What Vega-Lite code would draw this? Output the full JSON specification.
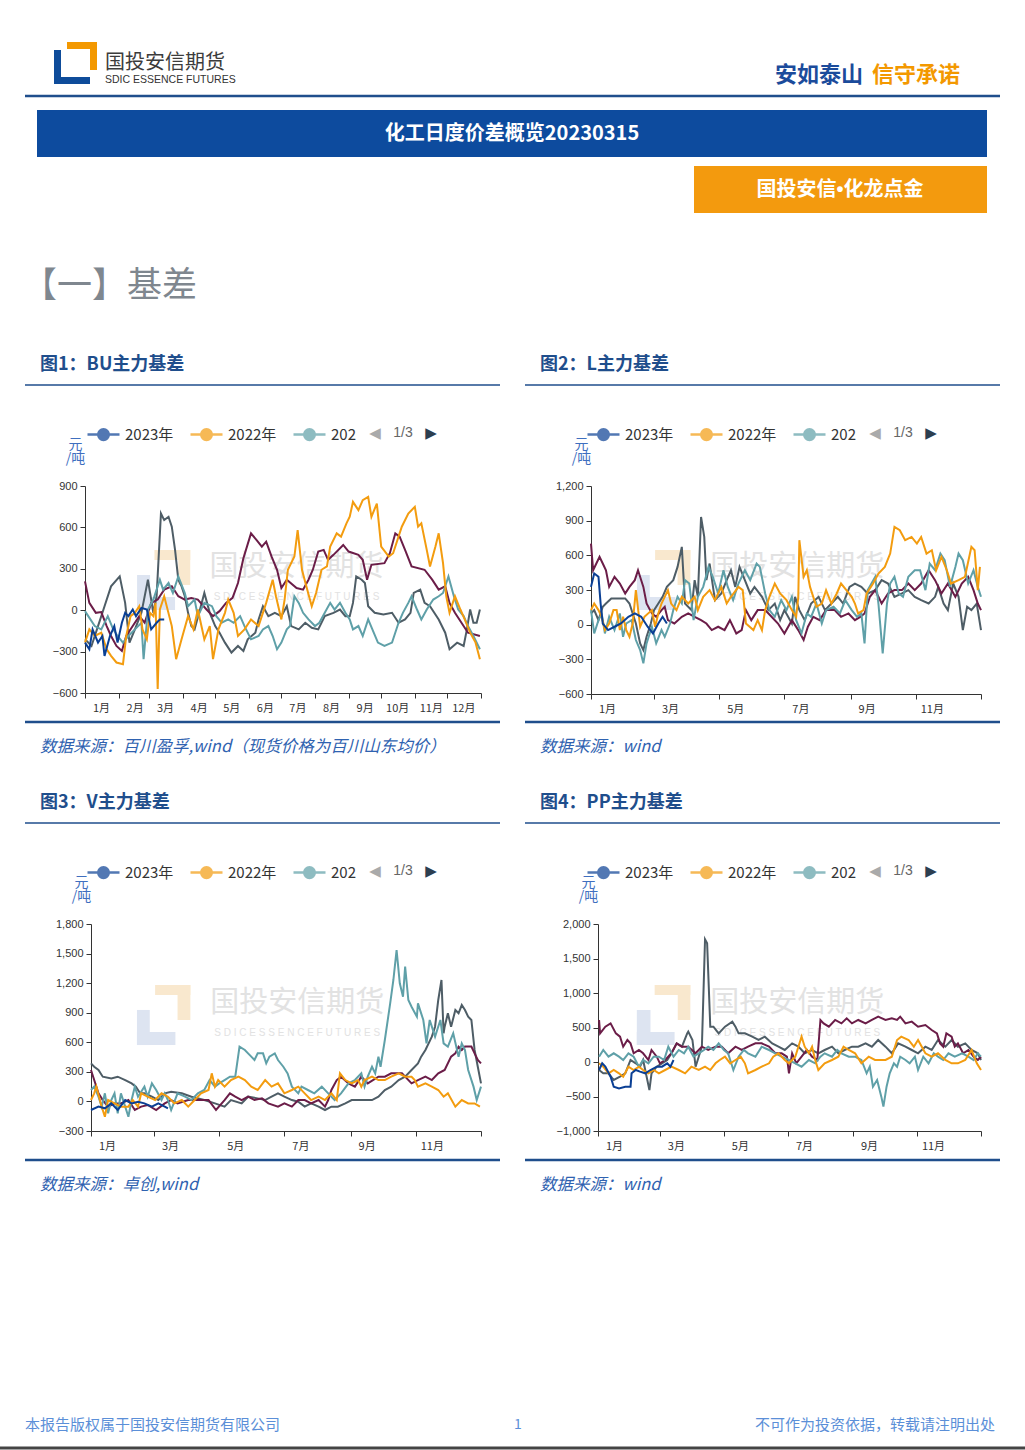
{
"$schema":"https://vega.github.io/schema/vega-lite/v6.json",
"width":1025,"height":1450,"padding":0,"autosize":{"type":"none"},"background":"white",
"data":{"values":[{}]},
"datasets":{
"bu":[
{"y":2019,"x":1,"v":-211},{"y":2019,"x":7,"v":-259},{"y":2019,"x":13,"v":-115},{"y":2019,"x":19,"v":29},{"y":2019,"x":25,"v":173},{"y":2019,"x":33,"v":245},{"y":2019,"x":38,"v":53},{"y":2019,"x":42,"v":-235},{"y":2019,"x":47,"v":-139},{"y":2019,"x":53,"v":-19},{"y":2019,"x":59,"v":221},{"y":2019,"x":64,"v":-19},{"y":2019,"x":67,"v":101},{"y":2019,"x":71,"v":701},{"y":2019,"x":74,"v":653},{"y":2019,"x":78,"v":677},{"y":2019,"x":81,"v":605},{"y":2019,"x":84,"v":437},{"y":2019,"x":87,"v":221},{"y":2019,"x":90,"v":173},{"y":2019,"x":93,"v":101},{"y":2019,"x":96,"v":-19},{"y":2019,"x":99,"v":-115},{"y":2019,"x":102,"v":-139},{"y":2019,"x":107,"v":5},{"y":2019,"x":111,"v":125},{"y":2019,"x":116,"v":-19},{"y":2019,"x":121,"v":-115},{"y":2019,"x":125,"v":-163},{"y":2019,"x":130,"v":-235},{"y":2019,"x":136,"v":-307},{"y":2019,"x":142,"v":-259},{"y":2019,"x":147,"v":-295},{"y":2019,"x":151,"v":-211},{"y":2019,"x":158,"v":-163},{"y":2019,"x":161,"v":-67},{"y":2019,"x":165,"v":29},{"y":2019,"x":170,"v":-43},{"y":2019,"x":176,"v":-19},{"y":2019,"x":182,"v":-43},{"y":2019,"x":187,"v":29},{"y":2019,"x":191,"v":-115},{"y":2019,"x":198,"v":-139},{"y":2019,"x":204,"v":-91},{"y":2019,"x":210,"v":-127},{"y":2019,"x":216,"v":-139},{"y":2019,"x":222,"v":-43},{"y":2019,"x":230,"v":-19},{"y":2019,"x":236,"v":5},{"y":2019,"x":241,"v":-43},{"y":2019,"x":245,"v":-43},{"y":2019,"x":248,"v":53},{"y":2019,"x":251,"v":245},{"y":2019,"x":256,"v":221},{"y":2019,"x":259,"v":197},{"y":2019,"x":262,"v":29},{"y":2019,"x":268,"v":-19},{"y":2019,"x":276,"v":-31},{"y":2019,"x":284,"v":-19},{"y":2019,"x":290,"v":-91},{"y":2019,"x":296,"v":-67},{"y":2019,"x":301,"v":-19},{"y":2019,"x":304,"v":125},{"y":2019,"x":310,"v":149},{"y":2019,"x":314,"v":53},{"y":2019,"x":319,"v":29},{"y":2019,"x":327,"v":-67},{"y":2019,"x":333,"v":-163},{"y":2019,"x":337,"v":-283},{"y":2019,"x":344,"v":-235},{"y":2019,"x":350,"v":-259},{"y":2019,"x":353,"v":-139},{"y":2019,"x":356,"v":5},{"y":2019,"x":359,"v":-91},{"y":2019,"x":362,"v":-91},{"y":2019,"x":365,"v":5},
{"y":2020,"x":1,"v":209},{"y":2020,"x":5,"v":53},{"y":2020,"x":11,"v":-19},{"y":2020,"x":16,"v":-14},{"y":2020,"x":21,"v":-115},{"y":2020,"x":25,"v":-187},{"y":2020,"x":30,"v":-259},{"y":2020,"x":35,"v":-295},{"y":2020,"x":39,"v":-187},{"y":2020,"x":45,"v":-115},{"y":2020,"x":51,"v":-43},{"y":2020,"x":56,"v":-91},{"y":2020,"x":62,"v":53},{"y":2020,"x":68,"v":77},{"y":2020,"x":74,"v":149},{"y":2020,"x":81,"v":173},{"y":2020,"x":87,"v":101},{"y":2020,"x":93,"v":77},{"y":2020,"x":99,"v":89},{"y":2020,"x":105,"v":77},{"y":2020,"x":113,"v":5},{"y":2020,"x":119,"v":-43},{"y":2020,"x":125,"v":-7},{"y":2020,"x":131,"v":53},{"y":2020,"x":137,"v":89},{"y":2020,"x":142,"v":197},{"y":2020,"x":147,"v":377},{"y":2020,"x":154,"v":557},{"y":2020,"x":159,"v":509},{"y":2020,"x":164,"v":461},{"y":2020,"x":168,"v":497},{"y":2020,"x":173,"v":389},{"y":2020,"x":178,"v":293},{"y":2020,"x":182,"v":161},{"y":2020,"x":187,"v":221},{"y":2020,"x":196,"v":161},{"y":2020,"x":202,"v":149},{"y":2020,"x":207,"v":221},{"y":2020,"x":211,"v":293},{"y":2020,"x":216,"v":425},{"y":2020,"x":221,"v":437},{"y":2020,"x":225,"v":365},{"y":2020,"x":230,"v":401},{"y":2020,"x":239,"v":473},{"y":2020,"x":244,"v":425},{"y":2020,"x":253,"v":401},{"y":2020,"x":257,"v":365},{"y":2020,"x":261,"v":221},{"y":2020,"x":265,"v":329},{"y":2020,"x":277,"v":341},{"y":2020,"x":282,"v":413},{"y":2020,"x":287,"v":557},{"y":2020,"x":291,"v":533},{"y":2020,"x":296,"v":437},{"y":2020,"x":302,"v":317},{"y":2020,"x":314,"v":293},{"y":2020,"x":321,"v":221},{"y":2020,"x":327,"v":149},{"y":2020,"x":333,"v":173},{"y":2020,"x":337,"v":53},{"y":2020,"x":342,"v":-19},{"y":2020,"x":348,"v":-91},{"y":2020,"x":354,"v":-163},{"y":2020,"x":365,"v":-187},
{"y":2021,"x":1,"v":-7},{"y":2021,"x":4,"v":-43},{"y":2021,"x":10,"v":-115},{"y":2021,"x":16,"v":-139},{"y":2021,"x":22,"v":-43},{"y":2021,"x":27,"v":-139},{"y":2021,"x":31,"v":-187},{"y":2021,"x":36,"v":-235},{"y":2021,"x":41,"v":-187},{"y":2021,"x":47,"v":-139},{"y":2021,"x":53,"v":-91},{"y":2021,"x":55,"v":-355},{"y":2021,"x":59,"v":5},{"y":2021,"x":64,"v":77},{"y":2021,"x":70,"v":221},{"y":2021,"x":73,"v":149},{"y":2021,"x":78,"v":197},{"y":2021,"x":82,"v":125},{"y":2021,"x":87,"v":245},{"y":2021,"x":93,"v":125},{"y":2021,"x":96,"v":29},{"y":2021,"x":102,"v":77},{"y":2021,"x":105,"v":-43},{"y":2021,"x":111,"v":53},{"y":2021,"x":118,"v":29},{"y":2021,"x":122,"v":-43},{"y":2021,"x":127,"v":-91},{"y":2021,"x":133,"v":-67},{"y":2021,"x":138,"v":-91},{"y":2021,"x":144,"v":-43},{"y":2021,"x":148,"v":-115},{"y":2021,"x":154,"v":-211},{"y":2021,"x":161,"v":-187},{"y":2021,"x":165,"v":-139},{"y":2021,"x":170,"v":-115},{"y":2021,"x":174,"v":-187},{"y":2021,"x":178,"v":-283},{"y":2021,"x":182,"v":-235},{"y":2021,"x":187,"v":-139},{"y":2021,"x":190,"v":-115},{"y":2021,"x":194,"v":101},{"y":2021,"x":198,"v":53},{"y":2021,"x":202,"v":-19},{"y":2021,"x":207,"v":-67},{"y":2021,"x":213,"v":-115},{"y":2021,"x":217,"v":-91},{"y":2021,"x":222,"v":-19},{"y":2021,"x":227,"v":53},{"y":2021,"x":231,"v":5},{"y":2021,"x":236,"v":53},{"y":2021,"x":241,"v":-19},{"y":2021,"x":245,"v":-67},{"y":2021,"x":248,"v":-139},{"y":2021,"x":253,"v":-115},{"y":2021,"x":257,"v":-187},{"y":2021,"x":262,"v":-67},{"y":2021,"x":271,"v":-235},{"y":2021,"x":277,"v":-259},{"y":2021,"x":284,"v":-235},{"y":2021,"x":290,"v":-91},{"y":2021,"x":294,"v":-19},{"y":2021,"x":299,"v":53},{"y":2021,"x":302,"v":101},{"y":2021,"x":307,"v":5},{"y":2021,"x":311,"v":-67},{"y":2021,"x":316,"v":5},{"y":2021,"x":322,"v":77},{"y":2021,"x":327,"v":101},{"y":2021,"x":331,"v":125},{"y":2021,"x":336,"v":245},{"y":2021,"x":341,"v":101},{"y":2021,"x":345,"v":5},{"y":2021,"x":350,"v":-43},{"y":2021,"x":354,"v":-115},{"y":2021,"x":359,"v":-187},{"y":2021,"x":365,"v":-283},
{"y":2022,"x":1,"v":-235},{"y":2022,"x":5,"v":-139},{"y":2022,"x":10,"v":-187},{"y":2022,"x":16,"v":-163},{"y":2022,"x":21,"v":-283},{"y":2022,"x":25,"v":-331},{"y":2022,"x":30,"v":-379},{"y":2022,"x":36,"v":-391},{"y":2022,"x":39,"v":-187},{"y":2022,"x":43,"v":-43},{"y":2022,"x":47,"v":-19},{"y":2022,"x":51,"v":29},{"y":2022,"x":54,"v":-139},{"y":2022,"x":58,"v":-211},{"y":2022,"x":61,"v":-19},{"y":2022,"x":64,"v":-43},{"y":2022,"x":66,"v":53},{"y":2022,"x":68,"v":-571},{"y":2022,"x":70,"v":5},{"y":2022,"x":74,"v":101},{"y":2022,"x":81,"v":-115},{"y":2022,"x":85,"v":-355},{"y":2022,"x":90,"v":-211},{"y":2022,"x":96,"v":-43},{"y":2022,"x":101,"v":-139},{"y":2022,"x":105,"v":5},{"y":2022,"x":111,"v":-211},{"y":2022,"x":116,"v":-115},{"y":2022,"x":119,"v":-355},{"y":2022,"x":124,"v":-139},{"y":2022,"x":130,"v":-19},{"y":2022,"x":133,"v":77},{"y":2022,"x":138,"v":-19},{"y":2022,"x":142,"v":-187},{"y":2022,"x":148,"v":-139},{"y":2022,"x":154,"v":-67},{"y":2022,"x":161,"v":-115},{"y":2022,"x":168,"v":53},{"y":2022,"x":174,"v":221},{"y":2022,"x":177,"v":101},{"y":2022,"x":182,"v":-67},{"y":2022,"x":185,"v":77},{"y":2022,"x":188,"v":293},{"y":2022,"x":194,"v":389},{"y":2022,"x":197,"v":581},{"y":2022,"x":201,"v":293},{"y":2022,"x":205,"v":173},{"y":2022,"x":210,"v":29},{"y":2022,"x":214,"v":125},{"y":2022,"x":219,"v":293},{"y":2022,"x":224,"v":317},{"y":2022,"x":227,"v":461},{"y":2022,"x":233,"v":557},{"y":2022,"x":237,"v":533},{"y":2022,"x":242,"v":629},{"y":2022,"x":245,"v":677},{"y":2022,"x":248,"v":785},{"y":2022,"x":253,"v":725},{"y":2022,"x":257,"v":797},{"y":2022,"x":262,"v":821},{"y":2022,"x":265,"v":677},{"y":2022,"x":270,"v":773},{"y":2022,"x":274,"v":461},{"y":2022,"x":281,"v":389},{"y":2022,"x":285,"v":413},{"y":2022,"x":290,"v":533},{"y":2022,"x":293,"v":605},{"y":2022,"x":299,"v":701},{"y":2022,"x":305,"v":749},{"y":2022,"x":308,"v":605},{"y":2022,"x":311,"v":629},{"y":2022,"x":316,"v":437},{"y":2022,"x":319,"v":317},{"y":2022,"x":324,"v":461},{"y":2022,"x":327,"v":557},{"y":2022,"x":331,"v":341},{"y":2022,"x":334,"v":101},{"y":2022,"x":337,"v":-19},{"y":2022,"x":342,"v":101},{"y":2022,"x":347,"v":5},{"y":2022,"x":351,"v":-67},{"y":2022,"x":356,"v":-163},{"y":2022,"x":361,"v":-235},{"y":2022,"x":365,"v":-355},
{"y":2023,"x":1,"v":-235},{"y":2023,"x":5,"v":-283},{"y":2023,"x":8,"v":-139},{"y":2023,"x":13,"v":-235},{"y":2023,"x":17,"v":-187},{"y":2023,"x":19,"v":-331},{"y":2023,"x":24,"v":-187},{"y":2023,"x":28,"v":-115},{"y":2023,"x":31,"v":-235},{"y":2023,"x":35,"v":-91},{"y":2023,"x":38,"v":-19},{"y":2023,"x":41,"v":-43},{"y":2023,"x":45,"v":5},{"y":2023,"x":48,"v":-43},{"y":2023,"x":53,"v":17},{"y":2023,"x":58,"v":5},{"y":2023,"x":62,"v":-139},{"y":2023,"x":67,"v":-91},{"y":2023,"x":70,"v":-67},{"y":2023,"x":74,"v":-67}
],
"l":[
{"y":2019,"x":1,"v":97},{"y":2019,"x":4,"v":126},{"y":2019,"x":8,"v":39},{"y":2019,"x":12,"v":155},{"y":2019,"x":15,"v":183},{"y":2019,"x":20,"v":227},{"y":2019,"x":26,"v":227},{"y":2019,"x":33,"v":227},{"y":2019,"x":37,"v":183},{"y":2019,"x":40,"v":97},{"y":2019,"x":43,"v":10},{"y":2019,"x":47,"v":-162},{"y":2019,"x":50,"v":-220},{"y":2019,"x":53,"v":-105},{"y":2019,"x":57,"v":10},{"y":2019,"x":60,"v":126},{"y":2019,"x":64,"v":183},{"y":2019,"x":68,"v":241},{"y":2019,"x":72,"v":327},{"y":2019,"x":78,"v":385},{"y":2019,"x":82,"v":500},{"y":2019,"x":86,"v":673},{"y":2019,"x":89,"v":183},{"y":2019,"x":95,"v":126},{"y":2019,"x":98,"v":385},{"y":2019,"x":101,"v":241},{"y":2019,"x":104,"v":932},{"y":2019,"x":107,"v":759},{"y":2019,"x":109,"v":385},{"y":2019,"x":112,"v":529},{"y":2019,"x":117,"v":212},{"y":2019,"x":123,"v":270},{"y":2019,"x":128,"v":385},{"y":2019,"x":132,"v":471},{"y":2019,"x":136,"v":327},{"y":2019,"x":140,"v":500},{"y":2019,"x":145,"v":385},{"y":2019,"x":150,"v":270},{"y":2019,"x":154,"v":327},{"y":2019,"x":161,"v":241},{"y":2019,"x":167,"v":126},{"y":2019,"x":173,"v":183},{"y":2019,"x":178,"v":39},{"y":2019,"x":182,"v":126},{"y":2019,"x":189,"v":10},{"y":2019,"x":192,"v":241},{"y":2019,"x":196,"v":126},{"y":2019,"x":201,"v":39},{"y":2019,"x":207,"v":183},{"y":2019,"x":214,"v":241},{"y":2019,"x":220,"v":126},{"y":2019,"x":226,"v":183},{"y":2019,"x":232,"v":241},{"y":2019,"x":237,"v":183},{"y":2019,"x":243,"v":327},{"y":2019,"x":248,"v":356},{"y":2019,"x":254,"v":327},{"y":2019,"x":260,"v":270},{"y":2019,"x":267,"v":299},{"y":2019,"x":273,"v":385},{"y":2019,"x":279,"v":356},{"y":2019,"x":285,"v":241},{"y":2019,"x":292,"v":270},{"y":2019,"x":298,"v":299},{"y":2019,"x":304,"v":241},{"y":2019,"x":310,"v":212},{"y":2019,"x":317,"v":183},{"y":2019,"x":323,"v":241},{"y":2019,"x":326,"v":327},{"y":2019,"x":331,"v":183},{"y":2019,"x":335,"v":126},{"y":2019,"x":340,"v":356},{"y":2019,"x":345,"v":241},{"y":2019,"x":349,"v":-47},{"y":2019,"x":353,"v":155},{"y":2019,"x":357,"v":126},{"y":2019,"x":362,"v":183},{"y":2019,"x":366,"v":-47},
{"y":2020,"x":1,"v":702},{"y":2020,"x":3,"v":471},{"y":2020,"x":6,"v":529},{"y":2020,"x":9,"v":587},{"y":2020,"x":12,"v":529},{"y":2020,"x":15,"v":471},{"y":2020,"x":18,"v":327},{"y":2020,"x":23,"v":414},{"y":2020,"x":28,"v":356},{"y":2020,"x":33,"v":270},{"y":2020,"x":37,"v":327},{"y":2020,"x":42,"v":385},{"y":2020,"x":45,"v":471},{"y":2020,"x":50,"v":327},{"y":2020,"x":53,"v":183},{"y":2020,"x":58,"v":97},{"y":2020,"x":62,"v":68},{"y":2020,"x":67,"v":126},{"y":2020,"x":70,"v":155},{"y":2020,"x":73,"v":39},{"y":2020,"x":79,"v":10},{"y":2020,"x":86,"v":68},{"y":2020,"x":92,"v":97},{"y":2020,"x":98,"v":68},{"y":2020,"x":104,"v":39},{"y":2020,"x":109,"v":10},{"y":2020,"x":114,"v":-47},{"y":2020,"x":120,"v":-18},{"y":2020,"x":126,"v":-47},{"y":2020,"x":131,"v":39},{"y":2020,"x":137,"v":-76},{"y":2020,"x":142,"v":-47},{"y":2020,"x":146,"v":126},{"y":2020,"x":151,"v":39},{"y":2020,"x":157,"v":126},{"y":2020,"x":164,"v":126},{"y":2020,"x":170,"v":68},{"y":2020,"x":176,"v":10},{"y":2020,"x":182,"v":-76},{"y":2020,"x":189,"v":39},{"y":2020,"x":195,"v":-47},{"y":2020,"x":200,"v":-133},{"y":2020,"x":204,"v":-18},{"y":2020,"x":209,"v":68},{"y":2020,"x":215,"v":39},{"y":2020,"x":221,"v":126},{"y":2020,"x":229,"v":126},{"y":2020,"x":235,"v":68},{"y":2020,"x":242,"v":97},{"y":2020,"x":248,"v":39},{"y":2020,"x":253,"v":68},{"y":2020,"x":257,"v":97},{"y":2020,"x":262,"v":241},{"y":2020,"x":267,"v":299},{"y":2020,"x":273,"v":183},{"y":2020,"x":279,"v":270},{"y":2020,"x":285,"v":299},{"y":2020,"x":292,"v":299},{"y":2020,"x":298,"v":356},{"y":2020,"x":304,"v":299},{"y":2020,"x":310,"v":356},{"y":2020,"x":317,"v":471},{"y":2020,"x":323,"v":385},{"y":2020,"x":329,"v":270},{"y":2020,"x":335,"v":356},{"y":2020,"x":342,"v":241},{"y":2020,"x":348,"v":356},{"y":2020,"x":354,"v":414},{"y":2020,"x":359,"v":299},{"y":2020,"x":363,"v":183},{"y":2020,"x":366,"v":126},
{"y":2021,"x":1,"v":126},{"y":2021,"x":4,"v":-76},{"y":2021,"x":8,"v":39},{"y":2021,"x":11,"v":97},{"y":2021,"x":14,"v":-76},{"y":2021,"x":18,"v":68},{"y":2021,"x":23,"v":-47},{"y":2021,"x":28,"v":97},{"y":2021,"x":31,"v":-105},{"y":2021,"x":34,"v":10},{"y":2021,"x":39,"v":39},{"y":2021,"x":43,"v":-133},{"y":2021,"x":47,"v":-220},{"y":2021,"x":50,"v":-335},{"y":2021,"x":53,"v":-162},{"y":2021,"x":58,"v":-18},{"y":2021,"x":62,"v":-162},{"y":2021,"x":67,"v":-47},{"y":2021,"x":70,"v":-105},{"y":2021,"x":75,"v":10},{"y":2021,"x":78,"v":126},{"y":2021,"x":82,"v":241},{"y":2021,"x":86,"v":183},{"y":2021,"x":89,"v":385},{"y":2021,"x":93,"v":356},{"y":2021,"x":97,"v":39},{"y":2021,"x":101,"v":241},{"y":2021,"x":106,"v":327},{"y":2021,"x":111,"v":500},{"y":2021,"x":115,"v":414},{"y":2021,"x":120,"v":270},{"y":2021,"x":125,"v":471},{"y":2021,"x":129,"v":327},{"y":2021,"x":134,"v":212},{"y":2021,"x":139,"v":356},{"y":2021,"x":145,"v":471},{"y":2021,"x":150,"v":385},{"y":2021,"x":156,"v":529},{"y":2021,"x":159,"v":500},{"y":2021,"x":164,"v":270},{"y":2021,"x":168,"v":126},{"y":2021,"x":173,"v":68},{"y":2021,"x":179,"v":212},{"y":2021,"x":184,"v":126},{"y":2021,"x":189,"v":241},{"y":2021,"x":193,"v":39},{"y":2021,"x":198,"v":-76},{"y":2021,"x":203,"v":97},{"y":2021,"x":207,"v":68},{"y":2021,"x":212,"v":183},{"y":2021,"x":217,"v":10},{"y":2021,"x":221,"v":126},{"y":2021,"x":228,"v":155},{"y":2021,"x":234,"v":97},{"y":2021,"x":239,"v":212},{"y":2021,"x":245,"v":126},{"y":2021,"x":250,"v":68},{"y":2021,"x":254,"v":97},{"y":2021,"x":257,"v":-162},{"y":2021,"x":260,"v":299},{"y":2021,"x":267,"v":414},{"y":2021,"x":270,"v":183},{"y":2021,"x":274,"v":-249},{"y":2021,"x":278,"v":183},{"y":2021,"x":281,"v":356},{"y":2021,"x":285,"v":414},{"y":2021,"x":289,"v":270},{"y":2021,"x":293,"v":241},{"y":2021,"x":298,"v":414},{"y":2021,"x":304,"v":471},{"y":2021,"x":309,"v":471},{"y":2021,"x":314,"v":299},{"y":2021,"x":318,"v":529},{"y":2021,"x":323,"v":471},{"y":2021,"x":328,"v":615},{"y":2021,"x":332,"v":558},{"y":2021,"x":337,"v":327},{"y":2021,"x":342,"v":500},{"y":2021,"x":345,"v":615},{"y":2021,"x":349,"v":558},{"y":2021,"x":354,"v":356},{"y":2021,"x":359,"v":471},{"y":2021,"x":363,"v":327},{"y":2021,"x":366,"v":241},
{"y":2022,"x":1,"v":126},{"y":2022,"x":4,"v":183},{"y":2022,"x":8,"v":126},{"y":2022,"x":11,"v":68},{"y":2022,"x":14,"v":-47},{"y":2022,"x":18,"v":10},{"y":2022,"x":22,"v":126},{"y":2022,"x":25,"v":126},{"y":2022,"x":28,"v":-47},{"y":2022,"x":31,"v":68},{"y":2022,"x":34,"v":-47},{"y":2022,"x":37,"v":-105},{"y":2022,"x":40,"v":10},{"y":2022,"x":43,"v":299},{"y":2022,"x":47,"v":-18},{"y":2022,"x":51,"v":68},{"y":2022,"x":58,"v":126},{"y":2022,"x":61,"v":-18},{"y":2022,"x":64,"v":97},{"y":2022,"x":67,"v":183},{"y":2022,"x":73,"v":299},{"y":2022,"x":76,"v":183},{"y":2022,"x":81,"v":126},{"y":2022,"x":86,"v":241},{"y":2022,"x":92,"v":183},{"y":2022,"x":98,"v":241},{"y":2022,"x":101,"v":126},{"y":2022,"x":106,"v":241},{"y":2022,"x":112,"v":299},{"y":2022,"x":117,"v":212},{"y":2022,"x":123,"v":327},{"y":2022,"x":128,"v":183},{"y":2022,"x":132,"v":241},{"y":2022,"x":139,"v":327},{"y":2022,"x":143,"v":299},{"y":2022,"x":146,"v":10},{"y":2022,"x":153,"v":-47},{"y":2022,"x":157,"v":39},{"y":2022,"x":161,"v":-47},{"y":2022,"x":164,"v":126},{"y":2022,"x":168,"v":241},{"y":2022,"x":173,"v":356},{"y":2022,"x":178,"v":270},{"y":2022,"x":184,"v":212},{"y":2022,"x":189,"v":126},{"y":2022,"x":193,"v":68},{"y":2022,"x":195,"v":241},{"y":2022,"x":196,"v":731},{"y":2022,"x":200,"v":414},{"y":2022,"x":203,"v":471},{"y":2022,"x":206,"v":327},{"y":2022,"x":209,"v":241},{"y":2022,"x":212,"v":155},{"y":2022,"x":217,"v":183},{"y":2022,"x":221,"v":299},{"y":2022,"x":226,"v":183},{"y":2022,"x":231,"v":270},{"y":2022,"x":235,"v":356},{"y":2022,"x":240,"v":299},{"y":2022,"x":245,"v":241},{"y":2022,"x":248,"v":183},{"y":2022,"x":251,"v":97},{"y":2022,"x":256,"v":126},{"y":2022,"x":259,"v":270},{"y":2022,"x":265,"v":356},{"y":2022,"x":270,"v":443},{"y":2022,"x":276,"v":500},{"y":2022,"x":281,"v":615},{"y":2022,"x":285,"v":846},{"y":2022,"x":290,"v":817},{"y":2022,"x":295,"v":731},{"y":2022,"x":301,"v":759},{"y":2022,"x":306,"v":702},{"y":2022,"x":310,"v":759},{"y":2022,"x":315,"v":615},{"y":2022,"x":320,"v":644},{"y":2022,"x":324,"v":471},{"y":2022,"x":329,"v":587},{"y":2022,"x":334,"v":471},{"y":2022,"x":338,"v":356},{"y":2022,"x":345,"v":385},{"y":2022,"x":351,"v":414},{"y":2022,"x":357,"v":673},{"y":2022,"x":360,"v":644},{"y":2022,"x":363,"v":299},{"y":2022,"x":365,"v":500},
{"y":2023,"x":1,"v":327},{"y":2023,"x":4,"v":443},{"y":2023,"x":8,"v":414},{"y":2023,"x":10,"v":183},{"y":2023,"x":12,"v":10},{"y":2023,"x":17,"v":-47},{"y":2023,"x":23,"v":-18},{"y":2023,"x":29,"v":10},{"y":2023,"x":36,"v":68},{"y":2023,"x":42,"v":97},{"y":2023,"x":48,"v":68},{"y":2023,"x":54,"v":-18},{"y":2023,"x":59,"v":-76},{"y":2023,"x":64,"v":10},{"y":2023,"x":68,"v":68},{"y":2023,"x":72,"v":10}
],
"v":[
{"y":2019,"x":1,"v":386},{"y":2019,"x":4,"v":352},{"y":2019,"x":8,"v":319},{"y":2019,"x":12,"v":251},{"y":2019,"x":20,"v":234},{"y":2019,"x":26,"v":251},{"y":2019,"x":33,"v":217},{"y":2019,"x":39,"v":183},{"y":2019,"x":43,"v":150},{"y":2019,"x":47,"v":82},{"y":2019,"x":51,"v":82},{"y":2019,"x":58,"v":48},{"y":2019,"x":64,"v":14},{"y":2019,"x":70,"v":82},{"y":2019,"x":76,"v":99},{"y":2019,"x":86,"v":82},{"y":2019,"x":95,"v":48},{"y":2019,"x":107,"v":14},{"y":2019,"x":117,"v":-20},{"y":2019,"x":126,"v":-53},{"y":2019,"x":132,"v":14},{"y":2019,"x":142,"v":-20},{"y":2019,"x":148,"v":48},{"y":2019,"x":157,"v":31},{"y":2019,"x":164,"v":14},{"y":2019,"x":170,"v":48},{"y":2019,"x":176,"v":82},{"y":2019,"x":182,"v":48},{"y":2019,"x":189,"v":14},{"y":2019,"x":195,"v":-3},{"y":2019,"x":201,"v":-53},{"y":2019,"x":207,"v":-20},{"y":2019,"x":214,"v":-53},{"y":2019,"x":220,"v":-87},{"y":2019,"x":226,"v":-53},{"y":2019,"x":232,"v":-53},{"y":2019,"x":239,"v":-20},{"y":2019,"x":245,"v":14},{"y":2019,"x":251,"v":14},{"y":2019,"x":257,"v":14},{"y":2019,"x":264,"v":14},{"y":2019,"x":270,"v":48},{"y":2019,"x":276,"v":116},{"y":2019,"x":282,"v":150},{"y":2019,"x":289,"v":217},{"y":2019,"x":295,"v":251},{"y":2019,"x":301,"v":319},{"y":2019,"x":307,"v":386},{"y":2019,"x":310,"v":454},{"y":2019,"x":314,"v":522},{"y":2019,"x":320,"v":657},{"y":2019,"x":323,"v":758},{"y":2019,"x":326,"v":1029},{"y":2019,"x":329,"v":1232},{"y":2019,"x":331,"v":691},{"y":2019,"x":332,"v":758},{"y":2019,"x":335,"v":894},{"y":2019,"x":338,"v":758},{"y":2019,"x":342,"v":927},{"y":2019,"x":345,"v":894},{"y":2019,"x":348,"v":978},{"y":2019,"x":351,"v":927},{"y":2019,"x":354,"v":860},{"y":2019,"x":357,"v":826},{"y":2019,"x":360,"v":522},{"y":2019,"x":363,"v":352},{"y":2019,"x":366,"v":183},
{"y":2020,"x":1,"v":319},{"y":2020,"x":4,"v":217},{"y":2020,"x":8,"v":82},{"y":2020,"x":12,"v":14},{"y":2020,"x":17,"v":-53},{"y":2020,"x":23,"v":-20},{"y":2020,"x":29,"v":-20},{"y":2020,"x":36,"v":14},{"y":2020,"x":42,"v":-87},{"y":2020,"x":48,"v":-53},{"y":2020,"x":54,"v":-36},{"y":2020,"x":62,"v":-87},{"y":2020,"x":70,"v":-20},{"y":2020,"x":76,"v":14},{"y":2020,"x":82,"v":-20},{"y":2020,"x":92,"v":14},{"y":2020,"x":101,"v":14},{"y":2020,"x":111,"v":14},{"y":2020,"x":118,"v":-87},{"y":2020,"x":126,"v":14},{"y":2020,"x":131,"v":82},{"y":2020,"x":136,"v":48},{"y":2020,"x":142,"v":14},{"y":2020,"x":148,"v":48},{"y":2020,"x":154,"v":14},{"y":2020,"x":161,"v":31},{"y":2020,"x":167,"v":-20},{"y":2020,"x":176,"v":-53},{"y":2020,"x":182,"v":-20},{"y":2020,"x":189,"v":-53},{"y":2020,"x":195,"v":14},{"y":2020,"x":201,"v":14},{"y":2020,"x":207,"v":-20},{"y":2020,"x":214,"v":14},{"y":2020,"x":220,"v":-53},{"y":2020,"x":223,"v":14},{"y":2020,"x":226,"v":116},{"y":2020,"x":231,"v":217},{"y":2020,"x":235,"v":251},{"y":2020,"x":242,"v":183},{"y":2020,"x":248,"v":150},{"y":2020,"x":254,"v":251},{"y":2020,"x":260,"v":183},{"y":2020,"x":270,"v":251},{"y":2020,"x":276,"v":251},{"y":2020,"x":282,"v":285},{"y":2020,"x":292,"v":285},{"y":2020,"x":301,"v":183},{"y":2020,"x":307,"v":217},{"y":2020,"x":314,"v":251},{"y":2020,"x":320,"v":217},{"y":2020,"x":326,"v":285},{"y":2020,"x":332,"v":319},{"y":2020,"x":338,"v":454},{"y":2020,"x":342,"v":488},{"y":2020,"x":345,"v":556},{"y":2020,"x":348,"v":522},{"y":2020,"x":351,"v":556},{"y":2020,"x":357,"v":556},{"y":2020,"x":360,"v":488},{"y":2020,"x":363,"v":420},{"y":2020,"x":366,"v":386},
{"y":2021,"x":1,"v":116},{"y":2021,"x":4,"v":150},{"y":2021,"x":8,"v":48},{"y":2021,"x":11,"v":-53},{"y":2021,"x":14,"v":82},{"y":2021,"x":17,"v":-121},{"y":2021,"x":20,"v":14},{"y":2021,"x":23,"v":82},{"y":2021,"x":26,"v":-121},{"y":2021,"x":29,"v":82},{"y":2021,"x":33,"v":-53},{"y":2021,"x":36,"v":-155},{"y":2021,"x":39,"v":14},{"y":2021,"x":42,"v":150},{"y":2021,"x":45,"v":48},{"y":2021,"x":51,"v":150},{"y":2021,"x":54,"v":48},{"y":2021,"x":58,"v":183},{"y":2021,"x":62,"v":116},{"y":2021,"x":67,"v":14},{"y":2021,"x":70,"v":82},{"y":2021,"x":73,"v":14},{"y":2021,"x":76,"v":-87},{"y":2021,"x":82,"v":82},{"y":2021,"x":89,"v":48},{"y":2021,"x":95,"v":14},{"y":2021,"x":101,"v":82},{"y":2021,"x":107,"v":116},{"y":2021,"x":112,"v":217},{"y":2021,"x":117,"v":150},{"y":2021,"x":121,"v":183},{"y":2021,"x":126,"v":217},{"y":2021,"x":131,"v":251},{"y":2021,"x":136,"v":251},{"y":2021,"x":140,"v":556},{"y":2021,"x":145,"v":522},{"y":2021,"x":148,"v":488},{"y":2021,"x":151,"v":454},{"y":2021,"x":154,"v":420},{"y":2021,"x":157,"v":488},{"y":2021,"x":162,"v":488},{"y":2021,"x":165,"v":386},{"y":2021,"x":168,"v":454},{"y":2021,"x":173,"v":488},{"y":2021,"x":176,"v":420},{"y":2021,"x":181,"v":352},{"y":2021,"x":185,"v":285},{"y":2021,"x":189,"v":150},{"y":2021,"x":195,"v":82},{"y":2021,"x":198,"v":150},{"y":2021,"x":204,"v":116},{"y":2021,"x":210,"v":82},{"y":2021,"x":217,"v":150},{"y":2021,"x":223,"v":82},{"y":2021,"x":229,"v":14},{"y":2021,"x":235,"v":82},{"y":2021,"x":242,"v":183},{"y":2021,"x":248,"v":217},{"y":2021,"x":254,"v":285},{"y":2021,"x":257,"v":150},{"y":2021,"x":260,"v":251},{"y":2021,"x":264,"v":352},{"y":2021,"x":267,"v":285},{"y":2021,"x":270,"v":454},{"y":2021,"x":272,"v":352},{"y":2021,"x":276,"v":623},{"y":2021,"x":281,"v":995},{"y":2021,"x":284,"v":1232},{"y":2021,"x":287,"v":1536},{"y":2021,"x":290,"v":1198},{"y":2021,"x":293,"v":1063},{"y":2021,"x":295,"v":1367},{"y":2021,"x":298,"v":1029},{"y":2021,"x":301,"v":961},{"y":2021,"x":306,"v":860},{"y":2021,"x":307,"v":995},{"y":2021,"x":312,"v":826},{"y":2021,"x":315,"v":589},{"y":2021,"x":318,"v":826},{"y":2021,"x":323,"v":657},{"y":2021,"x":328,"v":826},{"y":2021,"x":331,"v":589},{"y":2021,"x":335,"v":555},{"y":2021,"x":340,"v":691},{"y":2021,"x":345,"v":454},{"y":2021,"x":348,"v":589},{"y":2021,"x":351,"v":522},{"y":2021,"x":354,"v":319},{"y":2021,"x":359,"v":150},{"y":2021,"x":362,"v":14},{"y":2021,"x":366,"v":150},
{"y":2022,"x":1,"v":14},{"y":2022,"x":4,"v":82},{"y":2022,"x":6,"v":150},{"y":2022,"x":11,"v":-53},{"y":2022,"x":14,"v":-155},{"y":2022,"x":17,"v":14},{"y":2022,"x":23,"v":-20},{"y":2022,"x":29,"v":-53},{"y":2022,"x":36,"v":-53},{"y":2022,"x":40,"v":14},{"y":2022,"x":45,"v":-53},{"y":2022,"x":48,"v":82},{"y":2022,"x":54,"v":48},{"y":2022,"x":61,"v":14},{"y":2022,"x":67,"v":82},{"y":2022,"x":73,"v":48},{"y":2022,"x":79,"v":-20},{"y":2022,"x":86,"v":14},{"y":2022,"x":92,"v":-53},{"y":2022,"x":98,"v":14},{"y":2022,"x":104,"v":82},{"y":2022,"x":111,"v":116},{"y":2022,"x":114,"v":285},{"y":2022,"x":117,"v":150},{"y":2022,"x":120,"v":217},{"y":2022,"x":126,"v":150},{"y":2022,"x":132,"v":217},{"y":2022,"x":139,"v":251},{"y":2022,"x":145,"v":217},{"y":2022,"x":151,"v":150},{"y":2022,"x":157,"v":116},{"y":2022,"x":164,"v":217},{"y":2022,"x":170,"v":150},{"y":2022,"x":176,"v":183},{"y":2022,"x":182,"v":82},{"y":2022,"x":189,"v":116},{"y":2022,"x":195,"v":150},{"y":2022,"x":201,"v":82},{"y":2022,"x":207,"v":14},{"y":2022,"x":214,"v":48},{"y":2022,"x":220,"v":14},{"y":2022,"x":226,"v":82},{"y":2022,"x":231,"v":14},{"y":2022,"x":234,"v":285},{"y":2022,"x":239,"v":217},{"y":2022,"x":245,"v":183},{"y":2022,"x":251,"v":217},{"y":2022,"x":254,"v":150},{"y":2022,"x":257,"v":217},{"y":2022,"x":264,"v":251},{"y":2022,"x":270,"v":217},{"y":2022,"x":276,"v":217},{"y":2022,"x":282,"v":251},{"y":2022,"x":289,"v":285},{"y":2022,"x":295,"v":251},{"y":2022,"x":301,"v":251},{"y":2022,"x":304,"v":217},{"y":2022,"x":307,"v":150},{"y":2022,"x":314,"v":183},{"y":2022,"x":320,"v":150},{"y":2022,"x":326,"v":116},{"y":2022,"x":331,"v":48},{"y":2022,"x":335,"v":82},{"y":2022,"x":342,"v":-53},{"y":2022,"x":348,"v":14},{"y":2022,"x":354,"v":-20},{"y":2022,"x":360,"v":-20},{"y":2022,"x":365,"v":-53},
{"y":2023,"x":1,"v":-87},{"y":2023,"x":8,"v":-53},{"y":2023,"x":14,"v":-70},{"y":2023,"x":20,"v":-20},{"y":2023,"x":26,"v":-87},{"y":2023,"x":33,"v":14},{"y":2023,"x":39,"v":-20},{"y":2023,"x":45,"v":-3},{"y":2023,"x":51,"v":-20},{"y":2023,"x":58,"v":-53},{"y":2023,"x":64,"v":-20},{"y":2023,"x":70,"v":-53},{"y":2023,"x":73,"v":-70}
],
"pp":[
{"y":2019,"x":2,"v":-116},{"y":2019,"x":6,"v":-164},{"y":2019,"x":11,"v":-164},{"y":2019,"x":16,"v":-261},{"y":2019,"x":22,"v":-213},{"y":2019,"x":27,"v":-164},{"y":2019,"x":32,"v":29},{"y":2019,"x":37,"v":-19},{"y":2019,"x":41,"v":-68},{"y":2019,"x":44,"v":29},{"y":2019,"x":48,"v":-261},{"y":2019,"x":50,"v":-406},{"y":2019,"x":52,"v":-164},{"y":2019,"x":57,"v":-68},{"y":2019,"x":62,"v":-19},{"y":2019,"x":67,"v":29},{"y":2019,"x":71,"v":126},{"y":2019,"x":76,"v":270},{"y":2019,"x":81,"v":222},{"y":2019,"x":86,"v":415},{"y":2019,"x":87,"v":440},{"y":2019,"x":91,"v":319},{"y":2019,"x":94,"v":-68},{"y":2019,"x":97,"v":77},{"y":2019,"x":100,"v":222},{"y":2019,"x":103,"v":1778},{"y":2019,"x":105,"v":1720},{"y":2019,"x":108,"v":512},{"y":2019,"x":111,"v":512},{"y":2019,"x":116,"v":415},{"y":2019,"x":122,"v":512},{"y":2019,"x":129,"v":585},{"y":2019,"x":132,"v":512},{"y":2019,"x":135,"v":415},{"y":2019,"x":141,"v":415},{"y":2019,"x":148,"v":367},{"y":2019,"x":154,"v":319},{"y":2019,"x":160,"v":367},{"y":2019,"x":167,"v":270},{"y":2019,"x":173,"v":222},{"y":2019,"x":179,"v":174},{"y":2019,"x":186,"v":270},{"y":2019,"x":192,"v":222},{"y":2019,"x":198,"v":126},{"y":2019,"x":205,"v":174},{"y":2019,"x":211,"v":126},{"y":2019,"x":217,"v":174},{"y":2019,"x":224,"v":222},{"y":2019,"x":230,"v":126},{"y":2019,"x":236,"v":174},{"y":2019,"x":243,"v":222},{"y":2019,"x":249,"v":222},{"y":2019,"x":256,"v":270},{"y":2019,"x":262,"v":222},{"y":2019,"x":268,"v":319},{"y":2019,"x":275,"v":222},{"y":2019,"x":281,"v":126},{"y":2019,"x":287,"v":270},{"y":2019,"x":294,"v":222},{"y":2019,"x":300,"v":174},{"y":2019,"x":306,"v":126},{"y":2019,"x":313,"v":222},{"y":2019,"x":319,"v":174},{"y":2019,"x":325,"v":319},{"y":2019,"x":332,"v":222},{"y":2019,"x":338,"v":319},{"y":2019,"x":344,"v":222},{"y":2019,"x":351,"v":270},{"y":2019,"x":357,"v":174},{"y":2019,"x":363,"v":126},{"y":2019,"x":366,"v":29},
{"y":2020,"x":2,"v":609},{"y":2020,"x":3,"v":415},{"y":2020,"x":8,"v":512},{"y":2020,"x":13,"v":560},{"y":2020,"x":18,"v":415},{"y":2020,"x":22,"v":367},{"y":2020,"x":25,"v":222},{"y":2020,"x":29,"v":319},{"y":2020,"x":32,"v":270},{"y":2020,"x":35,"v":126},{"y":2020,"x":40,"v":174},{"y":2020,"x":44,"v":126},{"y":2020,"x":49,"v":29},{"y":2020,"x":52,"v":174},{"y":2020,"x":57,"v":77},{"y":2020,"x":60,"v":-19},{"y":2020,"x":65,"v":29},{"y":2020,"x":71,"v":126},{"y":2020,"x":76,"v":270},{"y":2020,"x":81,"v":222},{"y":2020,"x":87,"v":222},{"y":2020,"x":94,"v":126},{"y":2020,"x":100,"v":222},{"y":2020,"x":106,"v":174},{"y":2020,"x":113,"v":222},{"y":2020,"x":119,"v":222},{"y":2020,"x":125,"v":126},{"y":2020,"x":132,"v":222},{"y":2020,"x":138,"v":174},{"y":2020,"x":144,"v":222},{"y":2020,"x":151,"v":270},{"y":2020,"x":157,"v":270},{"y":2020,"x":164,"v":222},{"y":2020,"x":170,"v":126},{"y":2020,"x":176,"v":126},{"y":2020,"x":181,"v":77},{"y":2020,"x":183,"v":-164},{"y":2020,"x":186,"v":126},{"y":2020,"x":190,"v":-19},{"y":2020,"x":195,"v":77},{"y":2020,"x":200,"v":174},{"y":2020,"x":205,"v":77},{"y":2020,"x":210,"v":29},{"y":2020,"x":213,"v":609},{"y":2020,"x":216,"v":560},{"y":2020,"x":221,"v":512},{"y":2020,"x":227,"v":609},{"y":2020,"x":233,"v":560},{"y":2020,"x":238,"v":633},{"y":2020,"x":243,"v":560},{"y":2020,"x":249,"v":609},{"y":2020,"x":256,"v":560},{"y":2020,"x":262,"v":609},{"y":2020,"x":268,"v":657},{"y":2020,"x":275,"v":609},{"y":2020,"x":281,"v":633},{"y":2020,"x":286,"v":609},{"y":2020,"x":289,"v":657},{"y":2020,"x":294,"v":560},{"y":2020,"x":300,"v":585},{"y":2020,"x":306,"v":512},{"y":2020,"x":313,"v":536},{"y":2020,"x":319,"v":464},{"y":2020,"x":324,"v":415},{"y":2020,"x":327,"v":270},{"y":2020,"x":330,"v":222},{"y":2020,"x":333,"v":415},{"y":2020,"x":338,"v":367},{"y":2020,"x":341,"v":222},{"y":2020,"x":344,"v":270},{"y":2020,"x":349,"v":126},{"y":2020,"x":354,"v":174},{"y":2020,"x":359,"v":77},{"y":2020,"x":363,"v":29},{"y":2020,"x":366,"v":77},
{"y":2021,"x":2,"v":77},{"y":2021,"x":6,"v":174},{"y":2021,"x":11,"v":77},{"y":2021,"x":16,"v":126},{"y":2021,"x":21,"v":77},{"y":2021,"x":25,"v":29},{"y":2021,"x":30,"v":126},{"y":2021,"x":35,"v":77},{"y":2021,"x":40,"v":-68},{"y":2021,"x":44,"v":29},{"y":2021,"x":49,"v":-19},{"y":2021,"x":54,"v":77},{"y":2021,"x":59,"v":77},{"y":2021,"x":64,"v":29},{"y":2021,"x":68,"v":222},{"y":2021,"x":73,"v":77},{"y":2021,"x":78,"v":174},{"y":2021,"x":83,"v":126},{"y":2021,"x":87,"v":222},{"y":2021,"x":92,"v":77},{"y":2021,"x":97,"v":126},{"y":2021,"x":102,"v":174},{"y":2021,"x":106,"v":222},{"y":2021,"x":111,"v":174},{"y":2021,"x":116,"v":270},{"y":2021,"x":121,"v":174},{"y":2021,"x":125,"v":126},{"y":2021,"x":130,"v":-116},{"y":2021,"x":135,"v":77},{"y":2021,"x":140,"v":174},{"y":2021,"x":144,"v":126},{"y":2021,"x":151,"v":77},{"y":2021,"x":157,"v":222},{"y":2021,"x":164,"v":174},{"y":2021,"x":170,"v":126},{"y":2021,"x":176,"v":77},{"y":2021,"x":183,"v":29},{"y":2021,"x":189,"v":-19},{"y":2021,"x":195,"v":-68},{"y":2021,"x":202,"v":29},{"y":2021,"x":208,"v":-19},{"y":2021,"x":213,"v":77},{"y":2021,"x":217,"v":126},{"y":2021,"x":224,"v":77},{"y":2021,"x":229,"v":174},{"y":2021,"x":233,"v":126},{"y":2021,"x":240,"v":77},{"y":2021,"x":246,"v":77},{"y":2021,"x":252,"v":29},{"y":2021,"x":257,"v":-164},{"y":2021,"x":260,"v":-68},{"y":2021,"x":263,"v":-358},{"y":2021,"x":267,"v":-261},{"y":2021,"x":271,"v":-502},{"y":2021,"x":273,"v":-647},{"y":2021,"x":276,"v":-358},{"y":2021,"x":279,"v":-164},{"y":2021,"x":283,"v":-19},{"y":2021,"x":286,"v":-68},{"y":2021,"x":289,"v":77},{"y":2021,"x":294,"v":29},{"y":2021,"x":298,"v":-19},{"y":2021,"x":303,"v":77},{"y":2021,"x":306,"v":-116},{"y":2021,"x":311,"v":77},{"y":2021,"x":316,"v":-19},{"y":2021,"x":321,"v":126},{"y":2021,"x":325,"v":77},{"y":2021,"x":330,"v":29},{"y":2021,"x":335,"v":126},{"y":2021,"x":341,"v":77},{"y":2021,"x":348,"v":126},{"y":2021,"x":354,"v":77},{"y":2021,"x":359,"v":29},{"y":2021,"x":363,"v":126},{"y":2021,"x":366,"v":77},
{"y":2022,"x":2,"v":-19},{"y":2022,"x":6,"v":-68},{"y":2022,"x":11,"v":-164},{"y":2022,"x":16,"v":-116},{"y":2022,"x":21,"v":-164},{"y":2022,"x":25,"v":-213},{"y":2022,"x":30,"v":-68},{"y":2022,"x":35,"v":-116},{"y":2022,"x":40,"v":-68},{"y":2022,"x":44,"v":-116},{"y":2022,"x":49,"v":-164},{"y":2022,"x":54,"v":-116},{"y":2022,"x":59,"v":-164},{"y":2022,"x":65,"v":-116},{"y":2022,"x":71,"v":-68},{"y":2022,"x":78,"v":-116},{"y":2022,"x":84,"v":-164},{"y":2022,"x":90,"v":-68},{"y":2022,"x":97,"v":-116},{"y":2022,"x":103,"v":-68},{"y":2022,"x":108,"v":-116},{"y":2022,"x":113,"v":-19},{"y":2022,"x":117,"v":29},{"y":2022,"x":122,"v":77},{"y":2022,"x":127,"v":-19},{"y":2022,"x":132,"v":29},{"y":2022,"x":137,"v":77},{"y":2022,"x":141,"v":-19},{"y":2022,"x":144,"v":-164},{"y":2022,"x":151,"v":-116},{"y":2022,"x":157,"v":-68},{"y":2022,"x":164,"v":-19},{"y":2022,"x":168,"v":77},{"y":2022,"x":173,"v":126},{"y":2022,"x":179,"v":29},{"y":2022,"x":183,"v":-19},{"y":2022,"x":189,"v":77},{"y":2022,"x":195,"v":367},{"y":2022,"x":198,"v":222},{"y":2022,"x":202,"v":126},{"y":2022,"x":205,"v":222},{"y":2022,"x":208,"v":29},{"y":2022,"x":211,"v":-116},{"y":2022,"x":217,"v":-19},{"y":2022,"x":224,"v":29},{"y":2022,"x":230,"v":77},{"y":2022,"x":235,"v":222},{"y":2022,"x":240,"v":174},{"y":2022,"x":246,"v":126},{"y":2022,"x":252,"v":-19},{"y":2022,"x":259,"v":77},{"y":2022,"x":265,"v":29},{"y":2022,"x":275,"v":29},{"y":2022,"x":281,"v":77},{"y":2022,"x":286,"v":319},{"y":2022,"x":290,"v":367},{"y":2022,"x":297,"v":319},{"y":2022,"x":302,"v":222},{"y":2022,"x":306,"v":319},{"y":2022,"x":313,"v":126},{"y":2022,"x":319,"v":77},{"y":2022,"x":325,"v":126},{"y":2022,"x":332,"v":29},{"y":2022,"x":338,"v":-19},{"y":2022,"x":344,"v":-19},{"y":2022,"x":351,"v":29},{"y":2022,"x":357,"v":174},{"y":2022,"x":362,"v":-19},{"y":2022,"x":366,"v":-116},
{"y":2023,"x":2,"v":-116},{"y":2023,"x":5,"v":-19},{"y":2023,"x":8,"v":-68},{"y":2023,"x":13,"v":-213},{"y":2023,"x":16,"v":-358},{"y":2023,"x":21,"v":-382},{"y":2023,"x":27,"v":-358},{"y":2023,"x":32,"v":-358},{"y":2023,"x":33,"v":-164},{"y":2023,"x":37,"v":-116},{"y":2023,"x":41,"v":-140},{"y":2023,"x":46,"v":-164},{"y":2023,"x":51,"v":-116},{"y":2023,"x":57,"v":-68},{"y":2023,"x":62,"v":-68},{"y":2023,"x":67,"v":-19},{"y":2023,"x":70,"v":-68},{"y":2023,"x":73,"v":29}
]
},
"config":{
"view":{"stroke":null},
"axis":{"domainColor":"#333333","tickColor":"#333333","labelColor":"#333333","labelFont":"Liberation Sans","labelFontSize":11,"tickSize":5,"grid":false,"labelFlush":false,"labelOverlap":false},
"legend":{"symbolSize":1024,"symbolStrokeWidth":2.5,"labelFont":"Noto Sans CJK SC","labelFontSize":15,"labelColor":"#333333","labelOffset":4,"columnPadding":11,"padding":0},
"text":{"font":"Noto Sans CJK SC"}
},
"resolve":{"scale":{"x":"independent","y":"independent","color":"independent"},"axis":{"x":"independent","y":"independent"},"legend":{"color":"independent"}},
"layer":[
{"mark":{"type":"rect","color":"#0E4C9A"},"encoding":{"x":{"value":54},"x2":{"value":61},"y":{"value":50},"y2":{"value":84}}},
{"mark":{"type":"rect","color":"#0E4C9A"},"encoding":{"x":{"value":54},"x2":{"value":90},"y":{"value":77},"y2":{"value":84}}},
{"mark":{"type":"rect","color":"#F39800"},"encoding":{"x":{"value":67},"x2":{"value":97},"y":{"value":42},"y2":{"value":49}}},
{"mark":{"type":"rect","color":"#F39800"},"encoding":{"x":{"value":90},"x2":{"value":97},"y":{"value":42},"y2":{"value":70}}},
{"mark":{"type":"text","align":"left","baseline":"middle","fontSize":20,"color":"#3C3C3C"},"encoding":{"x":{"value":105},"y":{"value":63},"text":{"value":"国投安信期货"}}},
{"mark":{"type":"text","align":"left","baseline":"middle","fontSize":10.5,"font":"Liberation Sans","color":"#333333"},"encoding":{"x":{"value":105},"y":{"value":80},"text":{"value":"SDIC ESSENCE FUTURES"}}},
{"mark":{"type":"text","align":"left","baseline":"middle","fontSize":22,"fontWeight":"bold","color":"#1B4B9B"},"encoding":{"x":{"value":775},"y":{"value":75},"text":{"value":"安如泰山"}}},
{"mark":{"type":"text","align":"left","baseline":"middle","fontSize":22,"fontWeight":"bold","color":"#F39800"},"encoding":{"x":{"value":872},"y":{"value":75},"text":{"value":"信守承诺"}}},
{"mark":{"type":"rule","color":"#1F4E8C","strokeWidth":2.5},"encoding":{"x":{"value":25},"x2":{"value":1000},"y":{"value":96}}},
{"mark":{"type":"rect","color":"#0D4B9E"},"encoding":{"x":{"value":37},"x2":{"value":987},"y":{"value":110},"y2":{"value":157}}},
{"mark":{"type":"text","align":"center","baseline":"middle","fontSize":20,"fontWeight":"bold","color":"#FFFFFF"},"encoding":{"x":{"value":512},"y":{"value":134},"text":{"value":"化工日度价差概览20230315"}}},
{"mark":{"type":"rect","color":"#F39A0E"},"encoding":{"x":{"value":694},"x2":{"value":987},"y":{"value":166},"y2":{"value":213}}},
{"mark":{"type":"text","align":"center","baseline":"middle","fontSize":20,"fontWeight":"bold","font":"Liberation Sans, Noto Sans CJK SC","color":"#FFFFFF"},"encoding":{"x":{"value":840},"y":{"value":190},"text":{"value":"国投安信•化龙点金"}}},
{"mark":{"type":"text","align":"left","baseline":"middle","fontSize":35,"color":"#7F878F"},"encoding":{"x":{"value":22},"y":{"value":286},"text":{"value":"【一】基差"}}},
{"mark":{"type":"text","align":"left","baseline":"middle","fontSize":18,"fontWeight":"bold","color":"#1F4E8C"},"encoding":{"x":{"value":40},"y":{"value":365},"text":{"value":"图1：BU主力基差"}}},
{"mark":{"type":"text","align":"left","baseline":"middle","fontSize":18,"fontWeight":"bold","color":"#1F4E8C"},"encoding":{"x":{"value":540},"y":{"value":365},"text":{"value":"图2：L主力基差"}}},
{"mark":{"type":"text","align":"left","baseline":"middle","fontSize":18,"fontWeight":"bold","color":"#1F4E8C"},"encoding":{"x":{"value":40},"y":{"value":803},"text":{"value":"图3：V主力基差"}}},
{"mark":{"type":"text","align":"left","baseline":"middle","fontSize":18,"fontWeight":"bold","color":"#1F4E8C"},"encoding":{"x":{"value":540},"y":{"value":803},"text":{"value":"图4：PP主力基差"}}},
{"mark":{"type":"rule","color":"#1F4E8C","strokeWidth":1.5},"encoding":{"x":{"value":25},"x2":{"value":500},"y":{"value":385}}},
{"mark":{"type":"rule","color":"#1F4E8C","strokeWidth":1.5},"encoding":{"x":{"value":525},"x2":{"value":1000},"y":{"value":385}}},
{"mark":{"type":"rule","color":"#1F4E8C","strokeWidth":1.5},"encoding":{"x":{"value":25},"x2":{"value":500},"y":{"value":823}}},
{"mark":{"type":"rule","color":"#1F4E8C","strokeWidth":1.5},"encoding":{"x":{"value":525},"x2":{"value":1000},"y":{"value":823}}},
{"mark":{"type":"rule","color":"#1F4E8C","strokeWidth":2.5},"encoding":{"x":{"value":25},"x2":{"value":500},"y":{"value":722}}},
{"mark":{"type":"rule","color":"#1F4E8C","strokeWidth":2.5},"encoding":{"x":{"value":525},"x2":{"value":1000},"y":{"value":722}}},
{"mark":{"type":"rule","color":"#1F4E8C","strokeWidth":2.5},"encoding":{"x":{"value":25},"x2":{"value":500},"y":{"value":1160}}},
{"mark":{"type":"rule","color":"#1F4E8C","strokeWidth":2.5},"encoding":{"x":{"value":525},"x2":{"value":1000},"y":{"value":1160}}},
{"mark":{"type":"text","align":"left","baseline":"middle","fontSize":16.5,"fontStyle":"italic","color":"#2F62B0"},"encoding":{"x":{"value":40},"y":{"value":747},"text":{"value":"数据来源：百川盈孚,wind（现货价格为百川山东均价）"}}},
{"mark":{"type":"text","align":"left","baseline":"middle","fontSize":16.5,"fontStyle":"italic","color":"#2F62B0"},"encoding":{"x":{"value":540},"y":{"value":747},"text":{"value":"数据来源：wind"}}},
{"mark":{"type":"text","align":"left","baseline":"middle","fontSize":16.5,"fontStyle":"italic","color":"#2F62B0"},"encoding":{"x":{"value":40},"y":{"value":1185},"text":{"value":"数据来源：卓创,wind"}}},
{"mark":{"type":"text","align":"left","baseline":"middle","fontSize":16.5,"fontStyle":"italic","color":"#2F62B0"},"encoding":{"x":{"value":540},"y":{"value":1185},"text":{"value":"数据来源：wind"}}},
{"mark":{"type":"text","align":"left","baseline":"middle","fontSize":15,"color":"#5B8FD8"},"encoding":{"x":{"value":25},"y":{"value":1425},"text":{"value":"本报告版权属于国投安信期货有限公司"}}},
{"mark":{"type":"text","align":"center","baseline":"middle","fontSize":14,"color":"#5B8FD8"},"encoding":{"x":{"value":518},"y":{"value":1425},"text":{"value":"1"}}},
{"mark":{"type":"text","align":"right","baseline":"middle","fontSize":15,"color":"#5B8FD8"},"encoding":{"x":{"value":995},"y":{"value":1425},"text":{"value":"不可作为投资依据，转载请注明出处"}}},
{"mark":{"type":"rule","color":"#444444","strokeWidth":3},"encoding":{"x":{"value":0},"x2":{"value":1025},"y":{"value":1448}}},
{"mark":{"type":"text","align":"center","baseline":"middle","fontSize":15,"font":"DejaVu Sans","color":"#AAAAAA"},"encoding":{"x":{"value":375},"y":{"value":433},"text":{"value":"◀"}}},
{"mark":{"type":"text","align":"center","baseline":"middle","fontSize":14,"font":"Liberation Sans","color":"#666666"},"encoding":{"x":{"value":403},"y":{"value":433},"text":{"value":"1/3"}}},
{"mark":{"type":"text","align":"center","baseline":"middle","fontSize":15,"font":"DejaVu Sans","color":"#2C3E50"},"encoding":{"x":{"value":431},"y":{"value":433},"text":{"value":"▶"}}},
{"mark":{"type":"text","align":"center","baseline":"middle","fontSize":15,"font":"DejaVu Sans","color":"#AAAAAA"},"encoding":{"x":{"value":875},"y":{"value":433},"text":{"value":"◀"}}},
{"mark":{"type":"text","align":"center","baseline":"middle","fontSize":14,"font":"Liberation Sans","color":"#666666"},"encoding":{"x":{"value":903},"y":{"value":433},"text":{"value":"1/3"}}},
{"mark":{"type":"text","align":"center","baseline":"middle","fontSize":15,"font":"DejaVu Sans","color":"#2C3E50"},"encoding":{"x":{"value":931},"y":{"value":433},"text":{"value":"▶"}}},
{"mark":{"type":"text","align":"center","baseline":"middle","fontSize":15,"font":"DejaVu Sans","color":"#AAAAAA"},"encoding":{"x":{"value":375},"y":{"value":871},"text":{"value":"◀"}}},
{"mark":{"type":"text","align":"center","baseline":"middle","fontSize":14,"font":"Liberation Sans","color":"#666666"},"encoding":{"x":{"value":403},"y":{"value":871},"text":{"value":"1/3"}}},
{"mark":{"type":"text","align":"center","baseline":"middle","fontSize":15,"font":"DejaVu Sans","color":"#2C3E50"},"encoding":{"x":{"value":431},"y":{"value":871},"text":{"value":"▶"}}},
{"mark":{"type":"text","align":"center","baseline":"middle","fontSize":15,"font":"DejaVu Sans","color":"#AAAAAA"},"encoding":{"x":{"value":875},"y":{"value":871},"text":{"value":"◀"}}},
{"mark":{"type":"text","align":"center","baseline":"middle","fontSize":14,"font":"Liberation Sans","color":"#666666"},"encoding":{"x":{"value":903},"y":{"value":871},"text":{"value":"1/3"}}},
{"mark":{"type":"text","align":"center","baseline":"middle","fontSize":15,"font":"DejaVu Sans","color":"#2C3E50"},"encoding":{"x":{"value":931},"y":{"value":871},"text":{"value":"▶"}}},
{"layer":[
 {"mark":{"type":"rect","color":"#DDE4F1"},"encoding":{"x":{"datum":49},"x2":{"datum":61},"y":{"datum":255},"y2":{"datum":1}}},
 {"mark":{"type":"rect","color":"#DDE4F1"},"encoding":{"x":{"datum":49},"x2":{"datum":84},"y":{"datum":96},"y2":{"datum":1}}},
 {"mark":{"type":"rect","color":"#F9E8CE"},"encoding":{"x":{"datum":65},"x2":{"datum":98},"y":{"datum":436},"y2":{"datum":364}}},
 {"mark":{"type":"rect","color":"#F9E8CE"},"encoding":{"x":{"datum":87},"x2":{"datum":98},"y":{"datum":436},"y2":{"datum":183}}},
 {"mark":{"type":"text","fontSize":29,"color":"#E2E2E2"},"encoding":{"x":{"datum":196},"y":{"datum":313},"text":{"value":"国投安信期货"}}},
 {"mark":{"type":"text","fontSize":10,"color":"#E2E2E2","font":"Liberation Sans"},"encoding":{"x":{"datum":196},"y":{"datum":96},"text":{"value":"S D I C   E S S E N C E   F U T U R E S"}}},
 {"data":{"name":"bu"},"mark":{"type":"line","strokeWidth":2},"encoding":{
  "x":{"field":"x","type":"quantitative","scale":{"domain":[1,366],"range":[85,481],"nice":false,"zero":false},"axis":{"orient":"bottom","offset":-757,"title":null,"values":[1,32,60,91,121,152,182,213,244,274,305,335,366],"labelExpr":"datum.value < 366 ? (indexof([1,32,60,91,121,152,182,213,244,274,305,335], datum.value) + 1) + '月' : ''","labelOffset":16,"labelFont":"Noto Sans CJK SC","labelPadding":4}},
  "y":{"field":"v","type":"quantitative","scale":{"domain":[-600,900],"range":[693,486],"nice":false,"zero":false},"axis":{"orient":"left","offset":-85,"values":[-600,-300,0,300,600,900],"format":",.0f","labelPadding":3,"title":["元","/吨"],"titleAngle":0,"titleAlign":"center","titleBaseline":"top","titleX":-10,"titleY":437,"titleColor":"#3F6FBF","titleFontSize":14,"titleFontWeight":"normal","titleFont":"Noto Sans CJK SC","titleLineHeight":14}},
  "color":{"field":"y","type":"nominal","scale":{"domain":[2023,2022,2021,2020,2019],"range":["#0A3F94","#F39C0F","#5FA0A8","#6B1D48","#4E5D66"]},"legend":{"orient":"none","legendX":86,"legendY":417,"direction":"horizontal","title":null,"values":[2023,2022,2021],"symbolType":"M-1,0L1,0M0.33,0A0.33,0.33,0,1,1,-0.33,0A0.33,0.33,0,1,1,0.33,0Z","labelExpr":"datum.value == 2021 ? '202' : datum.label + '年'"}}}},
 {"data":{"name":"bu"},"transform":[{"filter":"datum.x < 0"}],"mark":{"type":"point","filled":true},"encoding":{"x":{"field":"x","type":"quantitative"},"y":{"field":"v","type":"quantitative"},
  "color":{"field":"y","type":"nominal","legend":{"orient":"none","legendX":86,"legendY":417,"direction":"horizontal","title":null,"values":[2023,2022,2021],"symbolType":"M-1,0L1,0M0.33,0A0.33,0.33,0,1,1,-0.33,0A0.33,0.33,0,1,1,0.33,0Z","labelExpr":"datum.value == 2021 ? '202' : datum.label + '年'"}}}}
]},
{"layer":[
 {"mark":{"type":"rect","color":"#DDE4F1"},"encoding":{"x":{"datum":44},"x2":{"datum":56},"y":{"datum":430},"y2":{"datum":127}}},
 {"mark":{"type":"rect","color":"#DDE4F1"},"encoding":{"x":{"datum":44},"x2":{"datum":80},"y":{"datum":239},"y2":{"datum":127}}},
 {"mark":{"type":"rect","color":"#F9E8CE"},"encoding":{"x":{"datum":61},"x2":{"datum":94},"y":{"datum":646},"y2":{"datum":560}}},
 {"mark":{"type":"rect","color":"#F9E8CE"},"encoding":{"x":{"datum":82},"x2":{"datum":94},"y":{"datum":646},"y2":{"datum":343}}},
 {"mark":{"type":"text","fontSize":29,"color":"#E2E2E2"},"encoding":{"x":{"datum":194},"y":{"datum":499},"text":{"value":"国投安信期货"}}},
 {"mark":{"type":"text","fontSize":10,"color":"#E2E2E2","font":"Liberation Sans"},"encoding":{"x":{"datum":194},"y":{"datum":239},"text":{"value":"S D I C   E S S E N C E   F U T U R E S"}}},
 {"data":{"name":"l"},"mark":{"type":"line","strokeWidth":2},"encoding":{
  "x":{"field":"x","type":"quantitative","scale":{"domain":[1,366],"range":[591,981],"nice":false,"zero":false},"axis":{"orient":"bottom","offset":-756,"title":null,"values":[1,60,121,182,244,305,366],"labelExpr":"datum.value < 366 ? (indexof([1,60,121,182,244,305], datum.value) * 2 + 1) + '月' : ''","labelOffset":16,"labelFont":"Noto Sans CJK SC","labelPadding":4}},
  "y":{"field":"v","type":"quantitative","scale":{"domain":[-600,1200],"range":[694,486],"nice":false,"zero":false},"axis":{"orient":"left","offset":-591,"values":[-600,-300,0,300,600,900,1200],"format":",.0f","labelPadding":3,"title":["元","/吨"],"titleAngle":0,"titleAlign":"center","titleBaseline":"top","titleX":-10,"titleY":437,"titleColor":"#3F6FBF","titleFontSize":14,"titleFontWeight":"normal","titleFont":"Noto Sans CJK SC","titleLineHeight":14}},
  "color":{"field":"y","type":"nominal","scale":{"domain":[2023,2022,2021,2020,2019],"range":["#0A3F94","#F39C0F","#5FA0A8","#6B1D48","#4E5D66"]},"legend":{"orient":"none","legendX":586,"legendY":417,"direction":"horizontal","title":null,"values":[2023,2022,2021],"symbolType":"M-1,0L1,0M0.33,0A0.33,0.33,0,1,1,-0.33,0A0.33,0.33,0,1,1,0.33,0Z","labelExpr":"datum.value == 2021 ? '202' : datum.label + '年'"}}}},
 {"data":{"name":"l"},"transform":[{"filter":"datum.x < 0"}],"mark":{"type":"point","filled":true},"encoding":{"x":{"field":"x","type":"quantitative"},"y":{"field":"v","type":"quantitative"},
  "color":{"field":"y","type":"nominal","legend":{"orient":"none","legendX":586,"legendY":417,"direction":"horizontal","title":null,"values":[2023,2022,2021],"symbolType":"M-1,0L1,0M0.33,0A0.33,0.33,0,1,1,-0.33,0A0.33,0.33,0,1,1,0.33,0Z","labelExpr":"datum.value == 2021 ? '202' : datum.label + '年'"}}}}
]},
{"layer":[
 {"mark":{"type":"rect","color":"#DDE4F1"},"encoding":{"x":{"datum":44},"x2":{"datum":56},"y":{"datum":928},"y2":{"datum":572}}},
 {"mark":{"type":"rect","color":"#DDE4F1"},"encoding":{"x":{"datum":44},"x2":{"datum":80},"y":{"datum":704},"y2":{"datum":572}}},
 {"mark":{"type":"rect","color":"#F9E8CE"},"encoding":{"x":{"datum":61},"x2":{"datum":94},"y":{"datum":1181},"y2":{"datum":1080}}},
 {"mark":{"type":"rect","color":"#F9E8CE"},"encoding":{"x":{"datum":82},"x2":{"datum":94},"y":{"datum":1181},"y2":{"datum":826}}},
 {"mark":{"type":"text","fontSize":29,"color":"#E2E2E2"},"encoding":{"x":{"datum":194},"y":{"datum":999},"text":{"value":"国投安信期货"}}},
 {"mark":{"type":"text","fontSize":10,"color":"#E2E2E2","font":"Liberation Sans"},"encoding":{"x":{"datum":194},"y":{"datum":694},"text":{"value":"S D I C   E S S E N C E   F U T U R E S"}}},
 {"data":{"name":"v"},"mark":{"type":"line","strokeWidth":2},"encoding":{
  "x":{"field":"x","type":"quantitative","scale":{"domain":[1,366],"range":[91,481],"nice":false,"zero":false},"axis":{"orient":"bottom","offset":-319,"title":null,"values":[1,60,121,182,244,305,366],"labelExpr":"datum.value < 366 ? (indexof([1,60,121,182,244,305], datum.value) * 2 + 1) + '月' : ''","labelOffset":16,"labelFont":"Noto Sans CJK SC","labelPadding":4}},
  "y":{"field":"v","type":"quantitative","scale":{"domain":[-300,1800],"range":[1131,924],"nice":false,"zero":false},"axis":{"orient":"left","offset":-91,"values":[-300,0,300,600,900,1200,1500,1800],"format":",.0f","labelPadding":3,"title":["元","/吨"],"titleAngle":0,"titleAlign":"center","titleBaseline":"top","titleX":-10,"titleY":875,"titleColor":"#3F6FBF","titleFontSize":14,"titleFontWeight":"normal","titleFont":"Noto Sans CJK SC","titleLineHeight":14}},
  "color":{"field":"y","type":"nominal","scale":{"domain":[2023,2022,2021,2020,2019],"range":["#0A3F94","#F39C0F","#5FA0A8","#6B1D48","#4E5D66"]},"legend":{"orient":"none","legendX":86,"legendY":855,"direction":"horizontal","title":null,"values":[2023,2022,2021],"symbolType":"M-1,0L1,0M0.33,0A0.33,0.33,0,1,1,-0.33,0A0.33,0.33,0,1,1,0.33,0Z","labelExpr":"datum.value == 2021 ? '202' : datum.label + '年'"}}}},
 {"data":{"name":"v"},"transform":[{"filter":"datum.x < 0"}],"mark":{"type":"point","filled":true},"encoding":{"x":{"field":"x","type":"quantitative"},"y":{"field":"v","type":"quantitative"},
  "color":{"field":"y","type":"nominal","legend":{"orient":"none","legendX":86,"legendY":855,"direction":"horizontal","title":null,"values":[2023,2022,2021],"symbolType":"M-1,0L1,0M0.33,0A0.33,0.33,0,1,1,-0.33,0A0.33,0.33,0,1,1,0.33,0Z","labelExpr":"datum.value == 2021 ? '202' : datum.label + '年'"}}}}
]},
{"layer":[
 {"mark":{"type":"rect","color":"#DDE4F1"},"encoding":{"x":{"datum":38},"x2":{"datum":51},"y":{"datum":754},"y2":{"datum":247}}},
 {"mark":{"type":"rect","color":"#DDE4F1"},"encoding":{"x":{"datum":38},"x2":{"datum":74},"y":{"datum":435},"y2":{"datum":247}}},
 {"mark":{"type":"rect","color":"#F9E8CE"},"encoding":{"x":{"datum":55},"x2":{"datum":89},"y":{"datum":1116},"y2":{"datum":971}}},
 {"mark":{"type":"rect","color":"#F9E8CE"},"encoding":{"x":{"datum":77},"x2":{"datum":89},"y":{"datum":1116},"y2":{"datum":609}}},
 {"mark":{"type":"text","fontSize":29,"color":"#E2E2E2"},"encoding":{"x":{"datum":191},"y":{"datum":855},"text":{"value":"国投安信期货"}}},
 {"mark":{"type":"text","fontSize":10,"color":"#E2E2E2","font":"Liberation Sans"},"encoding":{"x":{"datum":191},"y":{"datum":420},"text":{"value":"S D I C   E S S E N C E   F U T U R E S"}}},
 {"data":{"name":"pp"},"mark":{"type":"line","strokeWidth":2},"encoding":{
  "x":{"field":"x","type":"quantitative","scale":{"domain":[1,366],"range":[598,981],"nice":false,"zero":false},"axis":{"orient":"bottom","offset":-319,"title":null,"values":[1,60,121,182,244,305,366],"labelExpr":"datum.value < 366 ? (indexof([1,60,121,182,244,305], datum.value) * 2 + 1) + '月' : ''","labelOffset":16,"labelFont":"Noto Sans CJK SC","labelPadding":4}},
  "y":{"field":"v","type":"quantitative","scale":{"domain":[-1000,2000],"range":[1131,924],"nice":false,"zero":false},"axis":{"orient":"left","offset":-598,"values":[-1000,-500,0,500,1000,1500,2000],"format":",.0f","labelPadding":3,"title":["元","/吨"],"titleAngle":0,"titleAlign":"center","titleBaseline":"top","titleX":-10,"titleY":875,"titleColor":"#3F6FBF","titleFontSize":14,"titleFontWeight":"normal","titleFont":"Noto Sans CJK SC","titleLineHeight":14}},
  "color":{"field":"y","type":"nominal","scale":{"domain":[2023,2022,2021,2020,2019],"range":["#0A3F94","#F39C0F","#5FA0A8","#6B1D48","#4E5D66"]},"legend":{"orient":"none","legendX":586,"legendY":855,"direction":"horizontal","title":null,"values":[2023,2022,2021],"symbolType":"M-1,0L1,0M0.33,0A0.33,0.33,0,1,1,-0.33,0A0.33,0.33,0,1,1,0.33,0Z","labelExpr":"datum.value == 2021 ? '202' : datum.label + '年'"}}}},
 {"data":{"name":"pp"},"transform":[{"filter":"datum.x < 0"}],"mark":{"type":"point","filled":true},"encoding":{"x":{"field":"x","type":"quantitative"},"y":{"field":"v","type":"quantitative"},
  "color":{"field":"y","type":"nominal","legend":{"orient":"none","legendX":586,"legendY":855,"direction":"horizontal","title":null,"values":[2023,2022,2021],"symbolType":"M-1,0L1,0M0.33,0A0.33,0.33,0,1,1,-0.33,0A0.33,0.33,0,1,1,0.33,0Z","labelExpr":"datum.value == 2021 ? '202' : datum.label + '年'"}}}}
]}
]
}
